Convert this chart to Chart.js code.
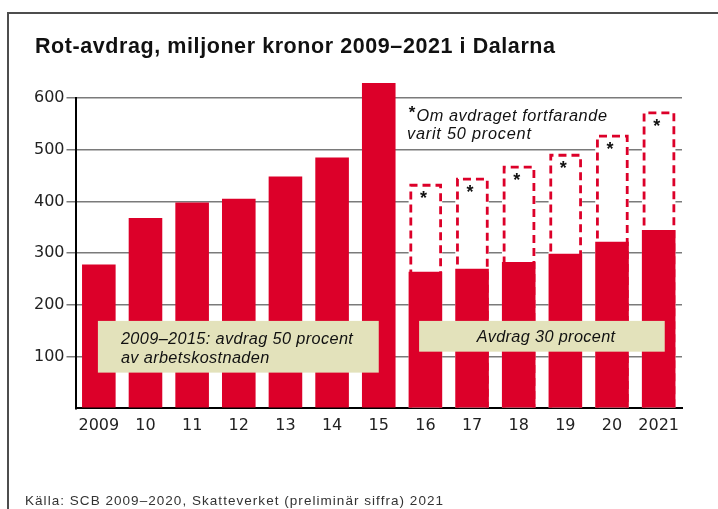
<!DOCTYPE html>
<html><head><meta charset="utf-8">
<script src="https://cdn.jsdelivr.net/npm/chart.js@4/dist/chart.umd.min.js"></script>
<style>html,body{margin:0;padding:0;background:#fff;}#wrap{width:718px;height:509px;}</style>
</head><body><div id="wrap"><canvas id="c" width="718" height="509"></canvas></div>
<script>
// ---- data ----
const categories = ['2009','10','11','12','13','14','15','16','17','18','19','20','2021'];
const actual = [278, 368, 398, 405, 448, 485, 629, 264, 270, 283, 299, 322, 345];
const at50 = [null, null, null, null, null, null, null, 434, 446, 469, 492, 529, 574];
const yTicks = [100, 200, 300, 400, 500, 600];
const titleText = 'Rot-avdrag, miljoner kronor 2009–2021 i Dalarna';
const sourceText = 'Källa: SCB 2009–2020, Skatteverket (preliminär siffra) 2021';
const noteLines = ['Om avdraget fortfarande', 'varit 50 procent'];
const box1Lines = ['2009–2015: avdrag 50 procent', 'av arbetskostnaden'];
const box2Line = 'Avdrag 30 procent';

const RED = '#dc0029';
const BEIGE = '#e3e2bb';

function drawText(c, text, x, y, font, target, color, align) {
  c.font = font; c.fillStyle = color; c.textAlign = 'left'; c.textBaseline = 'alphabetic';
  let ls = 0;
  const w = c.measureText(text).width;
  if (target) ls = (target - w) / Math.max(1, text.length - 1);
  const tw = target || w;
  if (align === 'center') x = x - tw / 2;
  if ('letterSpacing' in c) { c.letterSpacing = ls + 'px'; c.fillText(text, x, y); c.letterSpacing = '0px'; }
  else c.fillText(text, x, y);
}

const decor = {
  id: 'decor',
  beforeDraw(chart) {
    const c = chart.ctx;
    c.save();
    c.fillStyle = '#fff'; c.fillRect(0, 0, chart.width, chart.height);
    c.strokeStyle = '#4d4d4d'; c.lineWidth = 2;
    c.beginPath(); c.moveTo(8, chart.height); c.lineTo(8, 13); c.lineTo(chart.width, 13); c.stroke();
    drawText(c, titleText, 35, 52.7, 'bold 21.5px "Liberation Sans"', 520, '#111');
    drawText(c, sourceText, 25, 505, '13.5px "Liberation Sans"', 418, '#333');
    c.restore();
  },
  beforeDatasetsDraw(chart) {
    const meta = chart.getDatasetMeta(1);
    const c = chart.ctx;
    meta.data.forEach((el, i) => {
      if (at50[i] == null) return;
      const p = el.getProps(['x', 'y', 'base', 'width'], true);
      const l = p.x - p.width / 2, r = p.x + p.width / 2;
      c.save();
      c.fillStyle = '#fff';
      c.fillRect(l, p.y, p.width, p.base - p.y);
      const lw = 2.8;
      c.strokeStyle = RED; c.lineWidth = lw; c.setLineDash([8, 5]);
      const il = l + 2.2, ir = r - 1.6, t = p.y + lw / 2;
      c.beginPath(); c.moveTo(il, p.base); c.lineTo(il, t); c.lineTo(ir, t); c.lineTo(ir, p.base); c.stroke();
      c.setLineDash([]);
      c.fillStyle = '#111'; c.font = 'bold 18px "Liberation Sans"';
      c.textAlign = 'center'; c.textBaseline = 'alphabetic';
      c.fillText('*', p.x - 2, t + 19);
      c.restore();
    });
  },
  afterDatasetsDraw(chart) {
    const c = chart.ctx;
    const xs = chart.scales.x, ys = chart.scales.y;
    const f = 'italic 16.3px "Liberation Sans"';
    c.save();
    // box 1
    const b1l = xs.getPixelForValue(-0.02), b1r = xs.getPixelForValue(6.0);
    const b1t = ys.getPixelForValue(169), b1b = ys.getPixelForValue(69);
    c.fillStyle = BEIGE; c.fillRect(b1l, b1t, b1r - b1l, b1b - b1t);
    drawText(c, box1Lines[0], b1l + 23, b1t + 23.3, f, 232, '#111');
    drawText(c, box1Lines[1], b1l + 23, b1t + 42.3, f, 148.3, '#111');
    // box 2
    const b2l = xs.getPixelForValue(6.865), b2r = xs.getPixelForValue(12.13);
    const b2t = ys.getPixelForValue(169), b2b = ys.getPixelForValue(109.5);
    c.fillStyle = BEIGE; c.fillRect(b2l, b2t, b2r - b2l, b2b - b2t);
    drawText(c, box2Line, b2l + 57.7, b2t + 20.7, f, 138.3, '#111');
    // note
    const nx = xs.getPixelForValue(6.62), ny = ys.getPixelForValue(554.7);
    c.font = 'bold 17px "Liberation Sans"'; c.fillStyle = '#111'; c.textAlign = 'left'; c.textBaseline = 'alphabetic';
    c.fillText('*', nx + 1, ny - 3);
    drawText(c, noteLines[0], nx + 8.7, ny, f, 190.6, '#111');
    drawText(c, noteLines[1], nx - 0.7, ny + 17.8, f, 124, '#111');
    c.restore();
  }
};

new Chart(document.getElementById('c'), {
  type: 'bar',
  data: {
    labels: categories,
    datasets: [
      { data: actual, backgroundColor: RED, borderWidth: 0, barPercentage: 0.72, categoryPercentage: 1, grouped: false, clip: false },
      { data: at50, backgroundColor: 'rgba(0,0,0,0)', borderWidth: 0, barPercentage: 0.72, categoryPercentage: 1, grouped: false, clip: false }
    ]
  },
  options: {
    responsive: false, animation: false, devicePixelRatio: 1, events: [],
    layout: { padding: { top: 98, right: 36, bottom: 0, left: 0 } },
    plugins: { legend: { display: false }, title: { display: false }, tooltip: { enabled: false } },
    scales: {
      x: {
        z: 1,
        grid: { display: false, drawTicks: false },
        border: { display: true, color: '#000', width: 2 },
        ticks: { color: '#222', font: { family: '"DejaVu Sans"', size: 16 }, padding: 8, maxRotation: 0, autoSkip: false },
        afterFit(s) { s.height = 100.7; }
      },
      y: {
        min: 0, max: 600,
        afterBuildTicks(s) { s.ticks = [0].concat(yTicks).map(v => ({ value: v })); },
        grid: {
          color: (ctx) => (ctx.tick && ctx.tick.value === 0) ? 'rgba(0,0,0,0)' : '#7a7a7a',
          lineWidth: 1.5, tickLength: 9, drawTicks: true
        },
        border: { display: true, color: '#000', width: 2 },
        ticks: { color: '#222', font: { family: '"DejaVu Sans"', size: 16 }, padding: 2,
          callback: (v) => v === 0 ? '' : String(v) },
        afterFit(s) { s.width = 75.5; }
      }
    }
  },
  plugins: [decor]
});
</script>
</body></html>
